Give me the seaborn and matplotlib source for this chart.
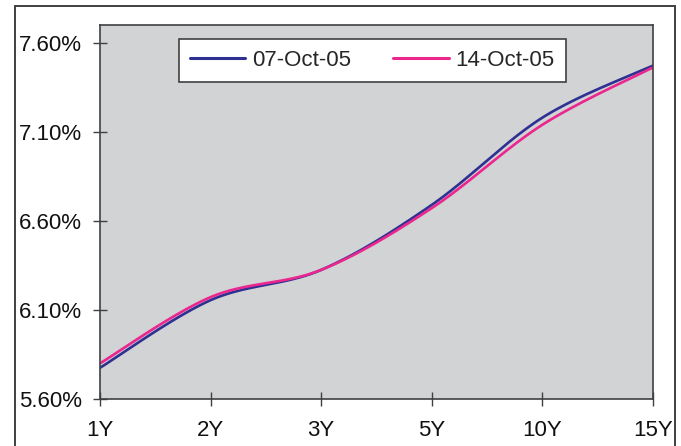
import numpy as np
import pandas as pd
import matplotlib
matplotlib.use("Agg")
import matplotlib.pyplot as plt
from matplotlib.patches import Rectangle
from matplotlib.ticker import FuncFormatter
import seaborn as sns

# Yield curve data (percent)
tenors = ["1Y", "2Y", "3Y", "5Y", "10Y", "15Y"]
yields_oct07 = [5.775, 6.155, 6.325, 6.690, 7.180, 7.472]
yields_oct14 = [5.800, 6.172, 6.325, 6.672, 7.140, 7.462]
series_names = ["07-Oct-05", "14-Oct-05"]
y_ticks = [5.60, 6.10, 6.60, 7.10, 7.60]

colors = ["#2E3192", "#EC268F"]


def smooth(xs, ys, n=40):
    """Bezier smoothing through every point (Catmull-Rom style control points)."""
    xs = np.asarray(xs, float)
    ys = np.asarray(ys, float)
    P = np.column_stack([xs, ys])
    out = []
    for i in range(len(P) - 1):
        p0 = P[i - 1] if i > 0 else P[i]
        p1 = P[i]
        p2 = P[i + 1]
        p3 = P[i + 2] if i + 2 < len(P) else P[i + 1]
        c1 = p1 + (p2 - p0) / 6.0
        c2 = p2 - (p3 - p1) / 6.0
        t = np.linspace(0, 1, n, endpoint=(i == len(P) - 2))[:, None]
        seg = ((1 - t) ** 3) * p1 + 3 * ((1 - t) ** 2) * t * c1 + 3 * (1 - t) * t ** 2 * c2 + t ** 3 * p2
        out.append(seg)
    out = np.vstack(out)
    return out[:, 0], out[:, 1]


frames = []
xpos = np.arange(len(tenors))
for name, vals in zip(series_names, [yields_oct07, yields_oct14]):
    sx, sy = smooth(xpos, vals)
    frames.append(pd.DataFrame({"x": sx, "y": sy, "series": name}))
df = pd.concat(frames, ignore_index=True)

sns.set_theme(style="white")
plt.rcParams["font.family"] = ["Liberation Sans", "DejaVu Sans"]

fig = plt.figure(figsize=(6.81, 4.46), dpi=100)
fig.patch.set_facecolor("white")
W, H = 681, 446
ax = fig.add_axes([100 / W, 1 - 399 / H, (653 - 100) / W, (399 - 25) / H])
ax.set_facecolor("#D1D3D4")

sns.lineplot(data=df, x="x", y="y", hue="series", palette=colors, sort=False,
             linewidth=1.9, ax=ax, legend=True)

ax.set_xlim(0, len(tenors) - 1)
ax.set_ylim(5.60, 7.70)
ax.set_xticks(xpos)
ax.set_xticklabels(tenors)
ax.set_yticks(y_ticks)
ax.yaxis.set_major_formatter(FuncFormatter(lambda v, p: f"{v:.2f}%"))
ax.set_xlabel("")
ax.set_ylabel("")

for s in ax.spines.values():
    s.set_color("#404040")
    s.set_linewidth(1.2)
    s.set_visible(True)

ax.tick_params(axis="both", direction="inout", length=10, width=1.0, color="#404040",
               labelsize=16, labelcolor="#111111", left=True, bottom=True)
ax.tick_params(axis="y", pad=8)
ax.tick_params(axis="x", pad=10)

leg = ax.legend(loc="upper center", bbox_to_anchor=(0.492, 0.963), borderaxespad=0,
                ncol=2, frameon=True, fancybox=False, fontsize=16, handlelength=2.5,
                handletextpad=0.3, columnspacing=1.9, borderpad=0.5, edgecolor="#404040",
                framealpha=1)
leg.get_frame().set_linewidth(1.2)
leg.get_frame().set_facecolor("white")
for line in leg.get_lines():
    line.set_linewidth(2.2)

# Outer chart frame
fig.patches.append(Rectangle((15 / W, -0.05), (675 - 15) / W, 1 - 6 / H + 0.05,
                             transform=fig.transFigure, fill=False,
                             edgecolor="#404040", linewidth=1.4))

fig.savefig("out.png", dpi=100)
